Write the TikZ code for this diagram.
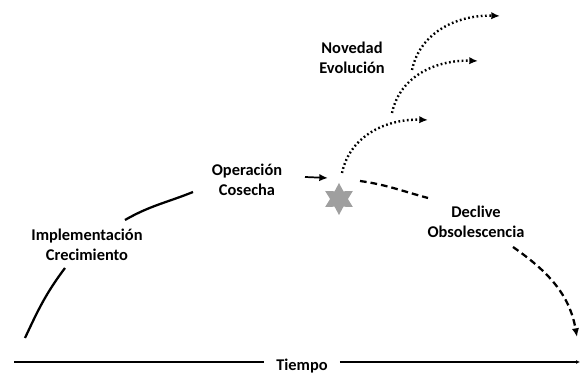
\documentclass[tikz,border=0pt]{standalone}
\usepackage{fontspec}
\setmainfont{Carlito}
\usetikzlibrary{arrows.meta,shapes.geometric}

\begin{document}
\begin{tikzpicture}[x=0.75pt, y=0.75pt, >={Latex[length=6.5pt,width=5.5pt]},
  etiqueta/.style={font=\fontsize{12.3}{15}\selectfont\bfseries, align=center},
  punteado/.style={line width=1.8pt, dash pattern=on 1.3pt off 1.9pt},
  rayado/.style={line width=1.7pt, dash pattern=on 5pt off 3pt}]
  \useasboundingbox (0,0) rectangle (582,373);

  % Eje del tiempo
  \node[etiqueta, inner xsep=9pt] (tiempo) at (302,7) {Tiempo};
  \coordinate (t0) at (14,11);
  \coordinate (t1) at (580,11);
  \draw[line width=0.8pt] (t0) -- (tiempo.west |- t0);
  \draw[line width=0.8pt, -{Latex[length=3pt,width=3pt]}] (tiempo.east |- t1) -- (t1);

  % Crecimiento y operacion
  \node[etiqueta] (impl) at (87,128) {Implementación\\Crecimiento};
  \node[etiqueta] (oper) at (247,193) {Operación\\Cosecha};
  \coordinate (g0) at (25,35);
  \coordinate (g1) at (65,105);
  \coordinate (g2) at (125,153);
  \coordinate (g3) at (193,181);
  \draw[line width=1.7pt] (g0) to[out=65,in=233] (g1);
  \draw[line width=1.7pt] (g2) to[out=30,in=202] (g3);

  % Punto de quiebre
  \node[star, star points=6, star point ratio=1.8, fill=gray!75, minimum size=24pt,
        inner sep=0pt] (quiebre) at (339,174) {};
  \coordinate (f0) at (305,196);
  \draw[->, line width=1.3pt] (f0) -- (328,195);

  % Novedad y evolucion
  \node[etiqueta] (nov) at (352,315) {Novedad\\Evolución};
  \coordinate (a0) at (342,200);
  \coordinate (a1) at (428,253);
  \coordinate (b0) at (392,260);
  \coordinate (b1) at (478,312);
  \coordinate (c0) at (412,303);
  \coordinate (c1) at (500,357);
  \draw[->, punteado] (a0) to[out=78,in=178] (a1);
  \draw[->, punteado] (b0) to[out=78,in=178] (b1);
  \draw[->, punteado] (c0) to[out=78,in=178] (c1);

  % Declive
  \node[etiqueta] (decl) at (476,151) {Declive\\Obsolescencia};
  \coordinate (d0) at (360,192);
  \coordinate (d1) at (428,175);
  \coordinate (d2) at (513,126);
  \coordinate (d3) at (577,36);
  \draw[rayado] (d0) to[out=-8,in=165] (d1);
  \draw[->, rayado] (d2) to[out=-35,in=100] (d3);
\end{tikzpicture}
\end{document}
